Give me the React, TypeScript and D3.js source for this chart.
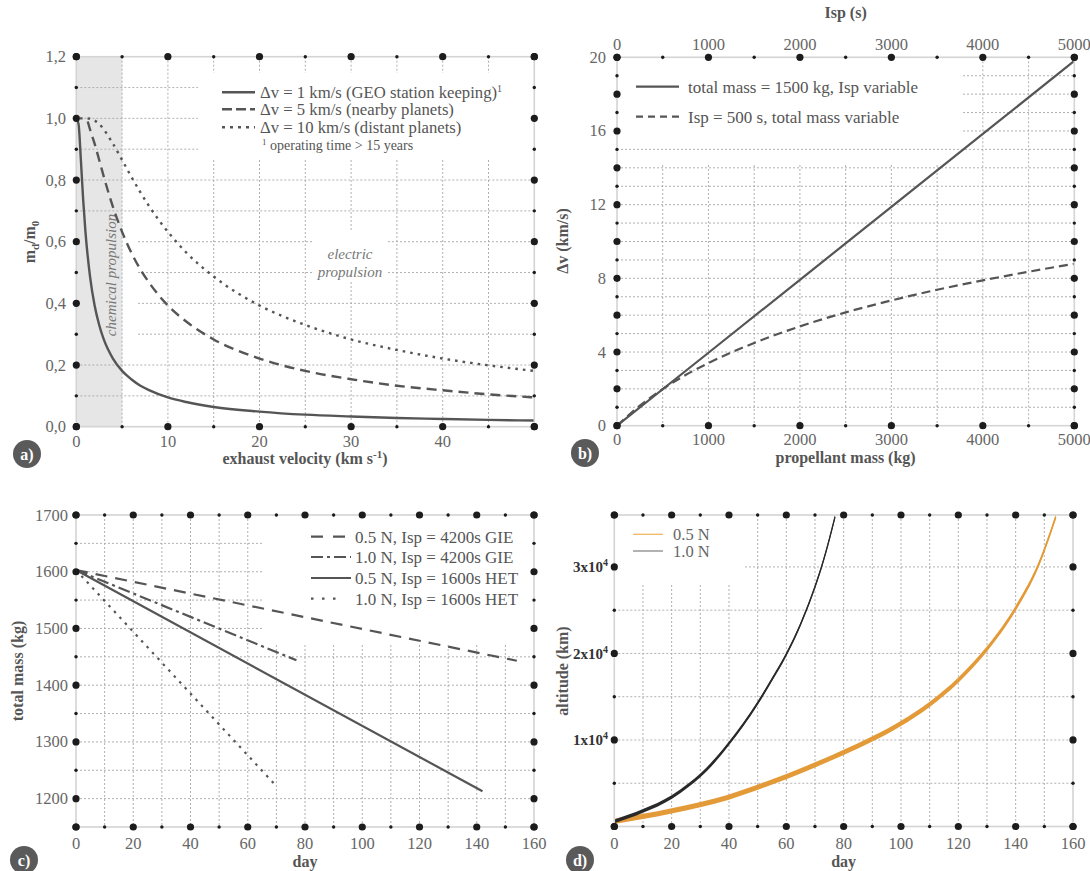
import React from "react";
import * as d3 from "d3";

// ---------------- Panel a data ----------------
const aVe1 = [0, 0.25, 0.5, 0.75, 1, 1.5, 2, 2.5, 3, 4, 5, 6, 7, 8, 10, 12, 15, 20, 25, 30, 35, 40, 45, 50];
const aFrac1 = [1.0, 0.98, 0.865, 0.736, 0.632, 0.487, 0.393, 0.33, 0.283, 0.221, 0.181, 0.154, 0.133, 0.118, 0.095, 0.08, 0.064, 0.049, 0.039, 0.033, 0.028, 0.025, 0.022, 0.02];
const aVe5 = [1.25, 1.5, 2, 2.5, 3, 4, 5, 6, 7, 8, 10, 12, 15, 20, 25, 30, 35, 40, 45, 50];
const aFrac5 = [0.99, 0.964, 0.918, 0.865, 0.811, 0.713, 0.632, 0.565, 0.51, 0.465, 0.393, 0.341, 0.283, 0.221, 0.181, 0.154, 0.133, 0.118, 0.105, 0.095];
const aVe10 = [0.4, 1, 1.5, 2, 2.5, 3, 4, 5, 6, 7, 8, 10, 12, 15, 20, 25, 30, 35, 40, 45, 50];
const aFrac10 = [1.0, 1.0, 0.999, 0.993, 0.982, 0.964, 0.918, 0.865, 0.811, 0.76, 0.713, 0.632, 0.565, 0.487, 0.393, 0.33, 0.283, 0.249, 0.221, 0.199, 0.181];
const aXTicks = [0, 10, 20, 30, 40];
const aYTicks = [0, 0.2, 0.4, 0.6, 0.8, 1.0, 1.2];
const aYTickLabels = ["0,0", "0,2", "0,4", "0,6", "0,8", "1,0", "1,2"];
const aLegend = ["Δv = 1 km/s (GEO station keeping)", "Δv = 5 km/s (nearby planets)", "Δv = 10 km/s (distant planets)"];

// ---------------- Panel b data ----------------
const bIsp = [0, 1000, 2000, 3000, 4000, 5000];
const bDvIsp = [0, 3.96, 7.92, 11.88, 15.84, 19.8];
const bProp = [0, 250, 500, 750, 1000, 1500, 2000, 2500, 3000, 3500, 4000, 4500, 5000];
const bDvProp = [0, 1.09, 1.99, 2.75, 3.4, 4.49, 5.39, 6.15, 6.8, 7.38, 7.89, 8.36, 8.79];
const bXTicks = [0, 1000, 2000, 3000, 4000, 5000];
const bYTicks = [0, 4, 8, 12, 16, 20];
const bLegend = ["total mass = 1500 kg, Isp variable", "Isp = 500 s, total mass variable"];

// ---------------- Panel c data ----------------
const cGie05Day = [0, 154];
const cGie05Mass = [1603, 1443];
const cGie10Day = [0, 77];
const cGie10Mass = [1603, 1444];
const cHet05Day = [0, 142];
const cHet05Mass = [1603, 1213];
const cHet10Day = [0, 70];
const cHet10Mass = [1603, 1222];
const cXTicks = [0, 20, 40, 60, 80, 100, 120, 140, 160];
const cYTicks = [1200, 1300, 1400, 1500, 1600, 1700];
const cLegend = ["0.5 N, Isp = 4200s GIE", "1.0 N, Isp = 4200s GIE", "0.5 N, Isp = 1600s HET", "1.0 N, Isp = 1600s HET"];

// ---------------- Panel d data ----------------
const d10Day = [0, 10, 20, 26, 30, 35, 40, 45, 50, 55, 60, 65, 70, 73, 75, 77];
const d10Alt = [600, 1800, 3400, 4800, 5900, 7600, 9600, 11800, 14250, 17000, 19900, 23400, 27700, 30800, 33200, 35800];
const d05Day = [0, 20, 40, 53, 60, 70, 80, 90, 100, 110, 120, 130, 140, 148, 154];
const d05Alt = [600, 1800, 3400, 4900, 5775, 7125, 8575, 10125, 11925, 14125, 16925, 20525, 25225, 30265, 35785];
const dXTicks = [0, 20, 40, 60, 80, 100, 120, 140, 160];
const dYTicks = [10000, 20000, 30000];
const dYTickMant = ["1x10", "2x10", "3x10"];
const dLegend = ["0.5 N", "1.0 N"];

// ---------------- styling ----------------
const FONT = "'Liberation Serif', 'Times New Roman', serif";
const TXT = "#666";
const TITLE = "#555";
const LINE = "#555";
const AXIS = "#d4d4d4";
const GRID = "#a8a8a8";
const DOT = "#1c1c1c";

type Box = [number, number, number, number];

const ax = d3.scaleLinear().domain([0, 50]).range([76.3, 534.3]);
const ay = d3.scaleLinear().domain([0, 1.2]).range([426.7, 56.7]);
const bx = d3.scaleLinear().domain([0, 5000]).range([617, 1074.3]);
const by = d3.scaleLinear().domain([0, 20]).range([425.7, 57.3]);
const cx = d3.scaleLinear().domain([0, 160]).range([76, 534]);
const cy = d3.scaleLinear().domain([1150, 1700]).range([827, 515]);
const dx = d3.scaleLinear().domain([0, 160]).range([614.3, 1073]);
const dy = d3.scaleLinear().domain([0, 36000]).range([826.5, 515]);

function subtract(a0: number, a1: number, cuts: [number, number][]): [number, number][] {
  let segs: [number, number][] = [[a0, a1]];
  for (const [c0, c1] of cuts) {
    const next: [number, number][] = [];
    for (const [s0, s1] of segs) {
      if (c1 <= s0 || c0 >= s1) { next.push([s0, s1]); continue; }
      if (c0 > s0) next.push([s0, c0]);
      if (c1 < s1) next.push([c1, s1]);
    }
    segs = next;
  }
  return segs;
}

const rng = (a: number, b: number, s: number) => d3.range(a, b + s / 2, s).map((v) => +v.toFixed(6));

function Grid(props: {
  x: d3.ScaleLinear<number, number>;
  y: d3.ScaleLinear<number, number>;
  gx: number[]; gy: number[];
  hBoxes: Box[]; vBoxes: Box[];
  id: string;
}) {
  const { x, y, gx, gy, hBoxes, vBoxes, id } = props;
  const [X0, X1] = x.range();
  const [Y1, Y0] = y.range();
  const els: React.ReactNode[] = [];
  gy.forEach((v, i) => {
    const py = y(v);
    const cuts = hBoxes.filter((b) => py >= b[2] && py <= b[3]).map((b) => [b[0], b[1]] as [number, number]);
    subtract(X0, X1, cuts).forEach(([s0, s1], j) =>
      els.push(<line key={`${id}h${i}_${j}`} x1={s0} x2={s1} y1={py} y2={py} stroke={GRID} strokeWidth={0.9} strokeDasharray="2 2" />)
    );
  });
  gx.forEach((v, i) => {
    const px = x(v);
    const cuts = vBoxes.filter((b) => px >= b[0] && px <= b[1]).map((b) => [b[2], b[3]] as [number, number]);
    subtract(Y0, Y1, cuts).forEach(([s0, s1], j) =>
      els.push(<line key={`${id}v${i}_${j}`} x1={px} x2={px} y1={s0} y2={s1} stroke={GRID} strokeWidth={0.9} strokeDasharray="2 2" />)
    );
  });
  return <g>{els}</g>;
}

function Frame(props: {
  x: d3.ScaleLinear<number, number>;
  y: d3.ScaleLinear<number, number>;
  bigX: number[]; smallX: number[]; bigY: number[]; smallY: number[];
  id: string;
}) {
  const { x, y, bigX, smallX, bigY, smallY, id } = props;
  const [X0, X1] = x.range();
  const [Y1, Y0] = y.range();
  const els: React.ReactNode[] = [];
  els.push(<rect key={id + "fr"} x={X0} y={Y0} width={X1 - X0} height={Y1 - Y0} fill="none" stroke={AXIS} strokeWidth={1.6} />);
  [Y0, Y1].forEach((py, k) => {
    bigX.forEach((v, i) => els.push(<circle key={`${id}bx${k}_${i}`} cx={x(v)} cy={py} r={3.6} fill={DOT} />));
    smallX.forEach((v, i) => els.push(<circle key={`${id}sx${k}_${i}`} cx={x(v)} cy={py} r={1.7} fill={DOT} />));
  });
  [X0, X1].forEach((px, k) => {
    bigY.forEach((v, i) => els.push(<circle key={`${id}by${k}_${i}`} cx={px} cy={y(v)} r={3.6} fill={DOT} />));
    smallY.forEach((v, i) => els.push(<circle key={`${id}sy${k}_${i}`} cx={px} cy={y(v)} r={1.7} fill={DOT} />));
  });
  return <g>{els}</g>;
}

function PanelLabel({ px, py, t }: { px: number; py: number; t: string }) {
  return (
    <g>
      <circle cx={px} cy={py} r={14} fill="#5a5a5a" />
      <text x={px} y={py + 5.5} textAnchor="middle" fontFamily={FONT} fontWeight="bold" fontSize={16} fill="#fff">{t}</text>
    </g>
  );
}

function zip(a: number[], b: number[]): [number, number][] {
  return a.map((v, i) => [v, b[i]]);
}

export default function App() {
  const lineA = d3.line<[number, number]>().x((d) => ax(d[0])).y((d) => ay(d[1])).curve(d3.curveMonotoneX);
  const lineB1 = d3.line<[number, number]>().x((d) => bx(d[0])).y((d) => by(d[1]));
  const lineB2 = d3.line<[number, number]>().x((d) => bx(d[0])).y((d) => by(d[1])).curve(d3.curveMonotoneX);
  const lineC = d3.line<[number, number]>().x((d) => cx(d[0])).y((d) => cy(d[1]));
  const lineD = d3.line<[number, number]>().x((d) => dx(d[0])).y((d) => dy(d[1])).curve(d3.curveMonotoneX);
  const bandD = (hw: number) =>
    d3.area<[number, number]>().x((d) => dx(d[0])).y0((d) => dy(d[1]) + hw).y1((d) => dy(d[1]) - hw).curve(d3.curveMonotoneX);

  const tickStyle = { fontFamily: FONT, fontSize: 16.5, fill: TXT } as const;
  const titleStyle = { fontFamily: FONT, fontSize: 16, fill: TITLE, fontWeight: "bold" as const };
  const legStyle = { fontFamily: FONT, fontSize: 17, fill: TITLE } as const;

  return (
    <svg width={1090} height={871} style={{ position: "absolute", left: 0, top: 0, background: "#fff" }}>
      {/* ================= PANEL A ================= */}
      <rect x={ax(0)} y={ay(1.2)} width={ax(5) - ax(0)} height={ay(0) - ay(1.2)} fill="#e6e6e6" />
      <Grid id="a" x={ax} y={ay} gx={rng(5, 45, 5)} gy={rng(0.1, 1.1, 0.1)}
        hBoxes={[[198, 540, 73, 160], [70, 138, 235, 345], [312, 388, 235, 282]]}
        vBoxes={[[198, 540, 73, 160], [312, 388, 230, 282]]} />
      <text transform={`translate(116,275) rotate(-90)`} textAnchor="middle" fontFamily={FONT} fontStyle="italic" fontSize={15} fill="#777">chemical propulsion</text>
      <text x={350} y={259} textAnchor="middle" fontFamily={FONT} fontStyle="italic" fontSize={15} fill="#777">electric</text>
      <text x={350} y={277} textAnchor="middle" fontFamily={FONT} fontStyle="italic" fontSize={15} fill="#777">propulsion</text>
      <path d={lineA(zip(aVe1, aFrac1)) || ""} fill="none" stroke={LINE} strokeWidth={2.4} />
      <path d={lineA(zip(aVe5, aFrac5)) || ""} fill="none" stroke={LINE} strokeWidth={2.4} strokeDasharray="10 6" />
      <path d={lineA(zip(aVe10, aFrac10)) || ""} fill="none" stroke={LINE} strokeWidth={2.4} strokeDasharray="2.6 5" />
      <Frame id="af" x={ax} y={ay} bigX={rng(0, 50, 10)} smallX={rng(5, 45, 10)} bigY={rng(0, 1.2, 0.2)} smallY={rng(0.1, 1.1, 0.2)} />
      {aXTicks.map((v) => (
        <text key={"axt" + v} x={ax(v)} y={447} textAnchor="middle" {...tickStyle}>{v}</text>
      ))}
      {aYTicks.map((v, i) => (
        <text key={"ayt" + v} x={66} y={ay(v) + 5.5} textAnchor="end" {...tickStyle}>{aYTickLabels[i]}</text>
      ))}
      <text x={305} y={464} textAnchor="middle" {...titleStyle}>
        exhaust velocity (km s<tspan dy={-6} fontSize={11}>-1</tspan><tspan dy={6}>)</tspan>
      </text>
      <text transform={`translate(35,242) rotate(-90)`} textAnchor="middle" {...titleStyle}>
        m<tspan dy={4} fontSize={11}>d</tspan><tspan dy={-4}>/m</tspan><tspan dy={4} fontSize={11}>0</tspan>
      </text>
      {/* legend a */}
      <line x1={222} x2={255} y1={92.3} y2={92.3} stroke={LINE} strokeWidth={2.4} />
      <line x1={222} x2={255} y1={109.3} y2={109.3} stroke={LINE} strokeWidth={2.4} strokeDasharray="10 4" />
      <line x1={222} x2={255} y1={127.3} y2={127.3} stroke={LINE} strokeWidth={2.4} strokeDasharray="3 5" />
      <text x={260} y={98} {...legStyle} fontSize={16.7}>
        {aLegend[0]}<tspan dy={-6} fontSize={10}>1</tspan>
      </text>
      <text x={260} y={115} {...legStyle} fontSize={16.7}>{aLegend[1]}</text>
      <text x={260} y={133} {...legStyle} fontSize={16.7}>{aLegend[2]}</text>
      <text x={262} y={150} fontFamily={FONT} fontSize={14} fill={TITLE}>
        <tspan dy={-5} fontSize={9}>1</tspan><tspan dy={5}> operating time &gt; 15 years</tspan>
      </text>
      <PanelLabel px={27} py={454} t="a)" />

      {/* ================= PANEL B ================= */}
      <Grid id="b" x={bx} y={by} gx={rng(500, 4500, 500)} gy={rng(1, 19, 1)}
        hBoxes={[[610, 963, 60, 140]]}
        vBoxes={[[610, 975, 60, 165]]} />
      <path d={lineB1(zip(bIsp, bDvIsp)) || ""} fill="none" stroke={LINE} strokeWidth={2.2} />
      <path d={lineB2(zip(bProp, bDvProp)) || ""} fill="none" stroke={LINE} strokeWidth={2.2} strokeDasharray="9 5" />
      <Frame id="bf" x={bx} y={by} bigX={rng(0, 5000, 1000)} smallX={rng(500, 4500, 1000)} bigY={rng(0, 20, 2)} smallY={rng(1, 19, 2)} />
      {bXTicks.map((v) => (
        <g key={"bxt" + v}>
          <text x={bx(v)} y={445} textAnchor="middle" {...tickStyle}>{v}</text>
          <text x={bx(v)} y={50} textAnchor="middle" {...tickStyle}>{v}</text>
        </g>
      ))}
      {bYTicks.map((v) => (
        <text key={"byt" + v} x={606} y={by(v) + 5.5} textAnchor="end" {...tickStyle}>{v}</text>
      ))}
      <text x={845.6} y={463} textAnchor="middle" {...titleStyle}>propellant mass (kg)</text>
      <text x={845.6} y={18} textAnchor="middle" {...titleStyle}>Isp (s)</text>
      <text transform={`translate(568,241) rotate(-90)`} textAnchor="middle" {...titleStyle}>Δv (km/s)</text>
      <line x1={636} x2={679} y1={86.7} y2={86.7} stroke={LINE} strokeWidth={2.2} />
      <line x1={636} x2={679} y1={116.7} y2={116.7} stroke={LINE} strokeWidth={2.2} strokeDasharray="7 5" />
      <text x={688} y={92.5} {...legStyle}>{bLegend[0]}</text>
      <text x={688} y={122.5} {...legStyle}>{bLegend[1]}</text>
      <PanelLabel px={585} py={453} t="b)" />

      {/* ================= PANEL C ================= */}
      <Grid id="c" x={cx} y={cy} gx={rng(10, 150, 10)} gy={rng(1200, 1650, 50)}
        hBoxes={[[262, 540, 518, 650]]}
        vBoxes={[[262, 540, 518, 645]]} />
      <path d={lineC(zip(cGie05Day, cGie05Mass)) || ""} fill="none" stroke={LINE} strokeWidth={2.2} strokeDasharray="12 8" />
      <path d={lineC(zip(cGie10Day, cGie10Mass)) || ""} fill="none" stroke={LINE} strokeWidth={2.2} strokeDasharray="12 4 3 4" />
      <path d={lineC(zip(cHet05Day, cHet05Mass)) || ""} fill="none" stroke={LINE} strokeWidth={2.2} />
      <path d={lineC(zip(cHet10Day, cHet10Mass)) || ""} fill="none" stroke={LINE} strokeWidth={2.2} strokeDasharray="2.5 5.5" />
      <Frame id="cf" x={cx} y={cy} bigX={rng(0, 160, 20)} smallX={rng(10, 150, 20)} bigY={rng(1200, 1700, 100)} smallY={rng(1250, 1650, 100)} />
      <circle cx={cx(0)} cy={cy(1150)} r={3.6} fill={DOT} />
      <circle cx={cx(160)} cy={cy(1150)} r={3.6} fill={DOT} />
      {cXTicks.map((v) => (
        <text key={"cxt" + v} x={cx(v)} y={849} textAnchor="middle" {...tickStyle}>{v}</text>
      ))}
      {cYTicks.map((v) => (
        <text key={"cyt" + v} x={68} y={cy(v) + 5.5} textAnchor="end" {...tickStyle}>{v}</text>
      ))}
      <text x={305} y={867} textAnchor="middle" {...titleStyle}>day</text>
      <text transform={`translate(23,671) rotate(-90)`} textAnchor="middle" {...titleStyle}>total mass (kg)</text>
      <line x1={311} x2={345} y1={536.7} y2={536.7} stroke={LINE} strokeWidth={2.2} strokeDasharray="12 10" />
      <line x1={311} x2={351} y1={557} y2={557} stroke={LINE} strokeWidth={2.2} strokeDasharray="12 4 3 4" />
      <line x1={311} x2={351} y1={578} y2={578} stroke={LINE} strokeWidth={2.2} />
      <line x1={311} x2={344} y1={598.7} y2={598.7} stroke={LINE} strokeWidth={2.2} strokeDasharray="2.5 8.5" />
      {cLegend.map((t, i) => (
        <text key={"cl" + i} x={355} y={[542.5, 563, 584, 604.5][i]} {...legStyle}>{t}</text>
      ))}
      <PanelLabel px={24} py={860} t="c)" />

      {/* ================= PANEL D ================= */}
      <Grid id="d" x={dx} y={dy} gx={rng(10, 150, 10)} gy={rng(5000, 35000, 5000)}
        hBoxes={[[610, 745, 518, 600], [610, 1080, 518, 540]]}
        vBoxes={[[610, 745, 518, 585]]} />
      <path d={bandD(2.6)(zip(d05Day, d05Alt)) || ""} fill="#e39a38" />
      <path d={lineD(zip(d05Day, d05Alt)) || ""} fill="none" stroke="#e39a38" strokeWidth={1.4} />
      <path d={bandD(1.9)(zip(d10Day, d10Alt)) || ""} fill="#2a2a2a" />
      <path d={lineD(zip(d10Day, d10Alt)) || ""} fill="none" stroke="#2a2a2a" strokeWidth={1.3} />
      <Frame id="df" x={dx} y={dy} bigX={rng(0, 160, 20)} smallX={rng(10, 150, 20)} bigY={dYTicks} smallY={[5000, 15000, 25000]} />
      <circle cx={dx(0)} cy={dy(0)} r={3.6} fill={DOT} />
      <circle cx={dx(160)} cy={dy(0)} r={3.6} fill={DOT} />
      <circle cx={dx(0)} cy={dy(36000)} r={3.6} fill={DOT} />
      <circle cx={dx(160)} cy={dy(36000)} r={3.6} fill={DOT} />
      {dXTicks.map((v) => (
        <text key={"dxt" + v} x={dx(v)} y={849} textAnchor="middle" {...tickStyle}>{v}</text>
      ))}
      {dYTicks.map((v, i) => (
        <text key={"dyt" + v} x={608} y={dy(v) + 5.5} textAnchor="end" fontFamily={FONT} fontSize={15} fontWeight="bold" fill="#333">
          {dYTickMant[i]}<tspan dy={-6} fontSize={10}>4</tspan>
        </text>
      ))}
      <text x={843.6} y={867} textAnchor="middle" {...titleStyle}>day</text>
      <text transform={`translate(568,671) rotate(-90)`} textAnchor="middle" {...titleStyle}>altitude (km)</text>
      <line x1={633} x2={663} y1={534.3} y2={534.3} stroke="#f2b766" strokeWidth={1.3} />
      <line x1={633} x2={663} y1={551} y2={551} stroke="#888" strokeWidth={1.3} />
      <text x={673} y={540} fontFamily={FONT} fontSize={16.5} fill={TXT}>{dLegend[0]}</text>
      <text x={673} y={557} fontFamily={FONT} fontSize={16.5} fill={TXT}>{dLegend[1]}</text>
      <PanelLabel px={580} py={860} t="d)" />
    </svg>
  );
}
